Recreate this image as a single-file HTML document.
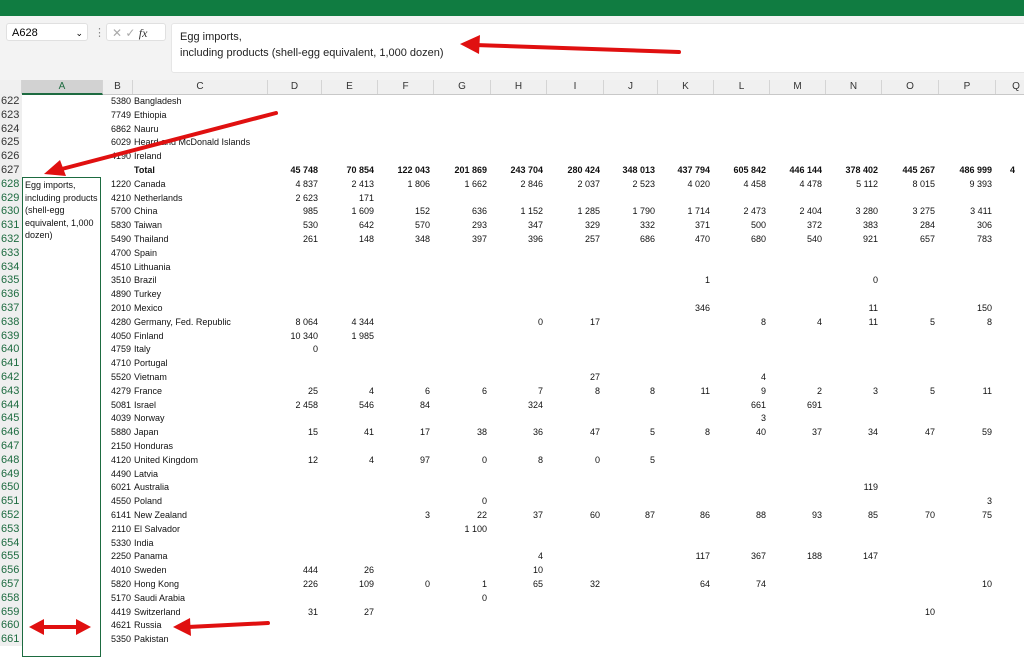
<!DOCTYPE html>
<html><head><meta charset="utf-8"><style>
body{margin:0;width:1024px;height:646px;overflow:hidden;background:#fff;font-family:"Liberation Sans",Arial,sans-serif;position:relative}
.a{position:absolute}
.r{position:absolute;left:0;width:1024px;height:14px;font-size:9px;line-height:14px;color:#111}
.r span{position:absolute;top:0;white-space:nowrap}
.h{left:0;width:21px;text-align:left;padding-left:1px;font-size:11px;color:#333;background:#efefef;height:14px}
.hs{color:#1d6b40}
.b{left:103px;width:28px;text-align:right}
.c{left:134px}
.D{left:268px;width:50px;text-align:right}.E{left:322px;width:52px;text-align:right}.F{left:378px;width:52px;text-align:right}.G{left:434px;width:53px;text-align:right}.H{left:491px;width:52px;text-align:right}.I{left:547px;width:53px;text-align:right}.J{left:604px;width:51px;text-align:right}.K{left:658px;width:52px;text-align:right}.L{left:714px;width:52px;text-align:right}.M{left:770px;width:52px;text-align:right}.N{left:826px;width:52px;text-align:right}.O{left:882px;width:53px;text-align:right}.P{left:939px;width:53px;text-align:right}.Q{left:1010px}
.bo{font-weight:bold}
.col{position:absolute;top:80px;height:14px;font-size:10px;line-height:14px;text-align:center;color:#333;border-right:1px solid #d4d4d4}
</style></head><body>
<div class="a" style="left:0;top:0;width:1024px;height:16px;background:#107c41"></div>
<div class="a" style="left:0;top:16px;width:1024px;height:64px;background:#f3f3f3"></div>
<div class="a" style="left:6px;top:23px;width:82px;height:18px;background:#fff;border:1px solid #e0e0e0;border-radius:3px;font-size:11px;line-height:18px;padding-left:5px;box-sizing:border-box">A628<span style="position:absolute;right:4px;font-size:9px">&#8964;</span></div>
<div class="a" style="left:94px;top:26px;font-size:11px;color:#888">&#8942;</div>
<div class="a" style="left:106px;top:23px;width:60px;height:18px;background:#fff;border:1px solid #e0e0e0;border-radius:3px;font-size:12px;line-height:18px;color:#aaa;box-sizing:border-box;padding-left:5px">&#10005; &#10003; <i style="color:#333;font-family:'Liberation Serif',serif">fx</i></div>
<div class="a" style="left:171px;top:23px;width:860px;height:50px;background:#fff;border:1px solid #e6e6e6;border-radius:3px;font-size:11px;line-height:16px;color:#222;padding:5px 8px;box-sizing:border-box">Egg imports,<br>including products (shell-egg equivalent, 1,000 dozen)</div>
<div class="a" style="left:0;top:80px;width:1024px;height:14px;background:#f0f0f0;border-bottom:1px solid #c8c8c8"></div>
<div class="col" style="left:0;width:21px"></div>
<div class="col" style="left:22px;width:80px;background:#d2d2d2;border-bottom:2px solid #1d6b40;height:13px;color:#1d6b40">A</div>
<div class="col" style="left:103px;width:29px">B</div><div class="col" style="left:133px;width:134px">C</div><div class="col" style="left:268px;width:53px">D</div><div class="col" style="left:322px;width:55px">E</div><div class="col" style="left:378px;width:55px">F</div><div class="col" style="left:434px;width:56px">G</div><div class="col" style="left:491px;width:55px">H</div><div class="col" style="left:547px;width:56px">I</div><div class="col" style="left:604px;width:53px">J</div><div class="col" style="left:658px;width:55px">K</div><div class="col" style="left:714px;width:55px">L</div><div class="col" style="left:770px;width:55px">M</div><div class="col" style="left:826px;width:55px">N</div><div class="col" style="left:882px;width:56px">O</div><div class="col" style="left:939px;width:56px">P</div><div class="col" style="left:996px;width:40px">Q</div>
<div class="a" style="left:21px;top:94px;width:1px;height:552px;background:#c8c8c8"></div>

<div class="r" style="top:94px"><span class="h">622</span><span class="b">5380</span><span class="c">Bangladesh</span></div>
<div class="r" style="top:107.8px"><span class="h">623</span><span class="b">7749</span><span class="c">Ethiopia</span></div>
<div class="r" style="top:121.6px"><span class="h">624</span><span class="b">6862</span><span class="c">Nauru</span></div>
<div class="r" style="top:135.4px"><span class="h">625</span><span class="b">6029</span><span class="c">Heard and McDonald Islands</span></div>
<div class="r" style="top:149.2px"><span class="h">626</span><span class="b">4190</span><span class="c">Ireland</span></div>
<div class="r bo" style="top:163px"><span class="h" style="font-weight:normal">627</span><span class="c">Total</span><span class="D">45 748</span><span class="E">70 854</span><span class="F">122 043</span><span class="G">201 869</span><span class="H">243 704</span><span class="I">280 424</span><span class="J">348 013</span><span class="K">437 794</span><span class="L">605 842</span><span class="M">446 144</span><span class="N">378 402</span><span class="O">445 267</span><span class="P">486 999</span><span class="Q">4</span></div>
<div class="r" style="top:176.8px"><span class="h hs">628</span><span class="b">1220</span><span class="c">Canada</span><span class="D">4 837</span><span class="E">2 413</span><span class="F">1 806</span><span class="G">1 662</span><span class="H">2 846</span><span class="I">2 037</span><span class="J">2 523</span><span class="K">4 020</span><span class="L">4 458</span><span class="M">4 478</span><span class="N">5 112</span><span class="O">8 015</span><span class="P">9 393</span></div>
<div class="r" style="top:190.6px"><span class="h hs">629</span><span class="b">4210</span><span class="c">Netherlands</span><span class="D">2 623</span><span class="E">171</span></div>
<div class="r" style="top:204.4px"><span class="h hs">630</span><span class="b">5700</span><span class="c">China</span><span class="D">985</span><span class="E">1 609</span><span class="F">152</span><span class="G">636</span><span class="H">1 152</span><span class="I">1 285</span><span class="J">1 790</span><span class="K">1 714</span><span class="L">2 473</span><span class="M">2 404</span><span class="N">3 280</span><span class="O">3 275</span><span class="P">3 411</span></div>
<div class="r" style="top:218.2px"><span class="h hs">631</span><span class="b">5830</span><span class="c">Taiwan</span><span class="D">530</span><span class="E">642</span><span class="F">570</span><span class="G">293</span><span class="H">347</span><span class="I">329</span><span class="J">332</span><span class="K">371</span><span class="L">500</span><span class="M">372</span><span class="N">383</span><span class="O">284</span><span class="P">306</span></div>
<div class="r" style="top:232px"><span class="h hs">632</span><span class="b">5490</span><span class="c">Thailand</span><span class="D">261</span><span class="E">148</span><span class="F">348</span><span class="G">397</span><span class="H">396</span><span class="I">257</span><span class="J">686</span><span class="K">470</span><span class="L">680</span><span class="M">540</span><span class="N">921</span><span class="O">657</span><span class="P">783</span></div>
<div class="r" style="top:245.8px"><span class="h hs">633</span><span class="b">4700</span><span class="c">Spain</span></div>
<div class="r" style="top:259.6px"><span class="h hs">634</span><span class="b">4510</span><span class="c">Lithuania</span></div>
<div class="r" style="top:273.4px"><span class="h hs">635</span><span class="b">3510</span><span class="c">Brazil</span><span class="K">1</span><span class="N">0</span></div>
<div class="r" style="top:287.2px"><span class="h hs">636</span><span class="b">4890</span><span class="c">Turkey</span></div>
<div class="r" style="top:301px"><span class="h hs">637</span><span class="b">2010</span><span class="c">Mexico</span><span class="K">346</span><span class="N">11</span><span class="P">150</span></div>
<div class="r" style="top:314.8px"><span class="h hs">638</span><span class="b">4280</span><span class="c">Germany, Fed. Republic</span><span class="D">8 064</span><span class="E">4 344</span><span class="H">0</span><span class="I">17</span><span class="L">8</span><span class="M">4</span><span class="N">11</span><span class="O">5</span><span class="P">8</span></div>
<div class="r" style="top:328.6px"><span class="h hs">639</span><span class="b">4050</span><span class="c">Finland</span><span class="D">10 340</span><span class="E">1 985</span></div>
<div class="r" style="top:342.4px"><span class="h hs">640</span><span class="b">4759</span><span class="c">Italy</span><span class="D">0</span></div>
<div class="r" style="top:356.2px"><span class="h hs">641</span><span class="b">4710</span><span class="c">Portugal</span></div>
<div class="r" style="top:370px"><span class="h hs">642</span><span class="b">5520</span><span class="c">Vietnam</span><span class="I">27</span><span class="L">4</span></div>
<div class="r" style="top:383.8px"><span class="h hs">643</span><span class="b">4279</span><span class="c">France</span><span class="D">25</span><span class="E">4</span><span class="F">6</span><span class="G">6</span><span class="H">7</span><span class="I">8</span><span class="J">8</span><span class="K">11</span><span class="L">9</span><span class="M">2</span><span class="N">3</span><span class="O">5</span><span class="P">11</span></div>
<div class="r" style="top:397.6px"><span class="h hs">644</span><span class="b">5081</span><span class="c">Israel</span><span class="D">2 458</span><span class="E">546</span><span class="F">84</span><span class="H">324</span><span class="L">661</span><span class="M">691</span></div>
<div class="r" style="top:411.4px"><span class="h hs">645</span><span class="b">4039</span><span class="c">Norway</span><span class="L">3</span></div>
<div class="r" style="top:425.2px"><span class="h hs">646</span><span class="b">5880</span><span class="c">Japan</span><span class="D">15</span><span class="E">41</span><span class="F">17</span><span class="G">38</span><span class="H">36</span><span class="I">47</span><span class="J">5</span><span class="K">8</span><span class="L">40</span><span class="M">37</span><span class="N">34</span><span class="O">47</span><span class="P">59</span></div>
<div class="r" style="top:439px"><span class="h hs">647</span><span class="b">2150</span><span class="c">Honduras</span></div>
<div class="r" style="top:452.8px"><span class="h hs">648</span><span class="b">4120</span><span class="c">United Kingdom</span><span class="D">12</span><span class="E">4</span><span class="F">97</span><span class="G">0</span><span class="H">8</span><span class="I">0</span><span class="J">5</span></div>
<div class="r" style="top:466.6px"><span class="h hs">649</span><span class="b">4490</span><span class="c">Latvia</span></div>
<div class="r" style="top:480.4px"><span class="h hs">650</span><span class="b">6021</span><span class="c">Australia</span><span class="N">119</span></div>
<div class="r" style="top:494.2px"><span class="h hs">651</span><span class="b">4550</span><span class="c">Poland</span><span class="G">0</span><span class="P">3</span></div>
<div class="r" style="top:508px"><span class="h hs">652</span><span class="b">6141</span><span class="c">New Zealand</span><span class="F">3</span><span class="G">22</span><span class="H">37</span><span class="I">60</span><span class="J">87</span><span class="K">86</span><span class="L">88</span><span class="M">93</span><span class="N">85</span><span class="O">70</span><span class="P">75</span></div>
<div class="r" style="top:521.8px"><span class="h hs">653</span><span class="b">2110</span><span class="c">El Salvador</span><span class="G">1 100</span></div>
<div class="r" style="top:535.6px"><span class="h hs">654</span><span class="b">5330</span><span class="c">India</span></div>
<div class="r" style="top:549.4px"><span class="h hs">655</span><span class="b">2250</span><span class="c">Panama</span><span class="H">4</span><span class="K">117</span><span class="L">367</span><span class="M">188</span><span class="N">147</span></div>
<div class="r" style="top:563.2px"><span class="h hs">656</span><span class="b">4010</span><span class="c">Sweden</span><span class="D">444</span><span class="E">26</span><span class="H">10</span></div>
<div class="r" style="top:577px"><span class="h hs">657</span><span class="b">5820</span><span class="c">Hong Kong</span><span class="D">226</span><span class="E">109</span><span class="F">0</span><span class="G">1</span><span class="H">65</span><span class="I">32</span><span class="K">64</span><span class="L">74</span><span class="P">10</span></div>
<div class="r" style="top:590.8px"><span class="h hs">658</span><span class="b">5170</span><span class="c">Saudi Arabia</span><span class="G">0</span></div>
<div class="r" style="top:604.6px"><span class="h hs">659</span><span class="b">4419</span><span class="c">Switzerland</span><span class="D">31</span><span class="E">27</span><span class="O">10</span></div>
<div class="r" style="top:618.4px"><span class="h hs">660</span><span class="b">4621</span><span class="c">Russia</span></div>
<div class="r" style="top:632.2px"><span class="h hs">661</span><span class="b">5350</span><span class="c">Pakistan</span></div>

<div class="a" style="left:22px;top:177px;width:79px;height:480px;border:1px solid #1d6b40;font-size:9px;line-height:12.5px;padding:1px 2px;box-sizing:border-box;color:#111">Egg imports,<br>including products<br>(shell-egg<br>equivalent, 1,000<br>dozen)</div>

<svg class="a" style="left:0;top:0" width="1024" height="646">
<g stroke="#e01010" stroke-width="4" stroke-linecap="round" fill="#e01010">
<line x1="679" y1="52" x2="475" y2="45"/><polygon points="460,44 480,35 479,54" stroke="none"/>
<line x1="276" y1="113" x2="58" y2="170"/><polygon points="44,174 60,160 66,176" stroke="none"/>
<line x1="42" y1="627" x2="78" y2="627"/><polygon points="29,627 44,619 44,635" stroke="none"/><polygon points="91,627 76,619 76,635" stroke="none"/>
<line x1="268" y1="623" x2="188" y2="627"/><polygon points="173,627 190,618 191,636" stroke="none"/>
</g></svg>
</body></html>
